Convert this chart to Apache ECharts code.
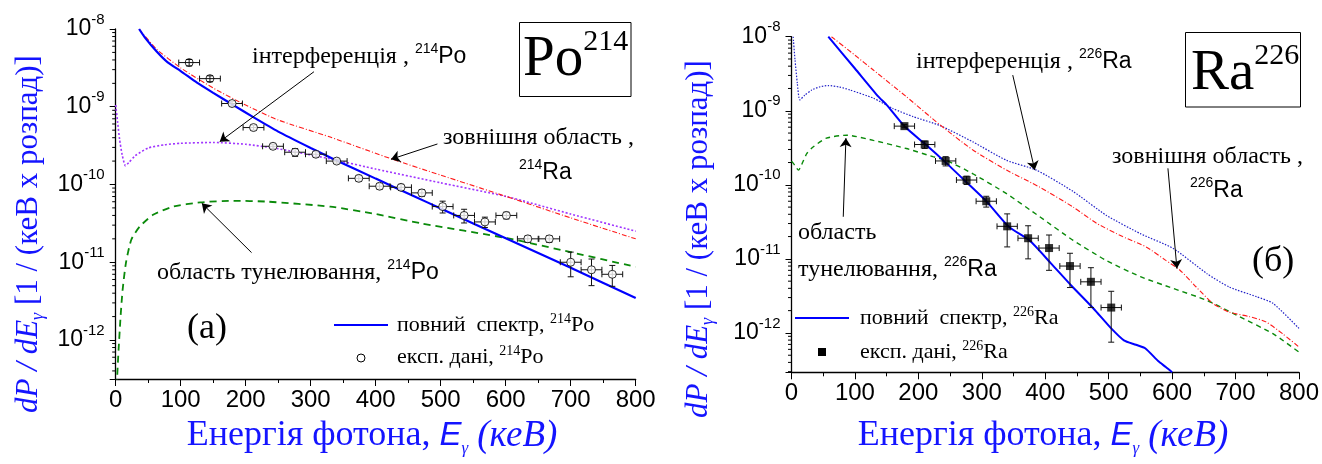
<!DOCTYPE html>
<html>
<head>
<meta charset="utf-8">
<title>Спектри гальмівного випромінювання 214Po та 226Ra</title>
<script src="https://cdn.jsdelivr.net/npm/echarts@6.0.0/dist/echarts.min.js"></script>
<style>
  html, body { margin: 0; padding: 0; background: #fff; }
  #chart { width: 1322px; height: 464px; }
</style>
</head>
<body>
<div id="chart"></div>
<script>
// ---------- panel (a): 214Po ----------
// photon energy E (keV) and dP/dE (1 / (keV x decay))
const poFullE   = [36, 45, 63, 80, 100, 125, 150, 181, 211, 250, 300, 338, 400, 459, 500, 600, 700, 800];
const poFullV   = [1.0e-8, 7.76e-9, 5.13e-9, 3.72e-9, 2.88e-9, 2.04e-9, 1.51e-9, 1.05e-9, 7.40e-10, 4.79e-10, 2.95e-10, 2.07e-10, 1.19e-10, 7.08e-11, 4.90e-11, 2.04e-11, 8.51e-12, 3.47e-12];
const poOuterE  = [36, 63, 100, 150, 200, 250, 330, 426, 500, 602, 700, 800];
const poOuterV  = [1.0e-8, 5.50e-9, 3.16e-9, 1.74e-9, 1.05e-9, 6.76e-10, 4.07e-10, 2.11e-10, 1.32e-10, 6.97e-11, 3.72e-11, 2.0e-11];
const poInterfE = [0, 3, 6, 10, 15, 20, 30, 50, 75, 100, 150, 200, 250, 300, 338, 400, 500, 602, 700, 800];
const poInterfV = [1.05e-9, 6.31e-10, 3.80e-10, 2.40e-10, 1.74e-10, 1.91e-10, 2.34e-10, 2.95e-10, 3.24e-10, 3.39e-10, 3.47e-10, 3.29e-10, 2.88e-10, 2.40e-10, 2.07e-10, 1.58e-10, 1.05e-10, 6.97e-11, 4.17e-11, 2.51e-11];
const poTunnelE = [2, 2.3, 4.4, 7.5, 10.6, 15.7, 24, 37, 57.5, 88, 130, 181, 232, 330, 400, 470, 602, 700, 800];
const poTunnelV = [2.51e-13, 3.39e-13, 7.41e-13, 2.0e-12, 4.37e-12, 9.77e-12, 1.95e-11, 2.88e-11, 4.07e-11, 5.19e-11, 5.89e-11, 6.17e-11, 6.03e-11, 5.19e-11, 4.17e-11, 3.16e-11, 2.04e-11, 1.35e-11, 8.71e-12];
// measured spectrum with errors
const poExpE    = [113, 145, 179, 212, 242, 276, 308, 340, 374, 406, 439, 471, 503, 536, 568, 601, 634, 667, 700, 732, 764];
const poExpV    = [3.7e-9, 2.3e-9, 1.1e-9, 5.4e-10, 3.1e-10, 2.6e-10, 2.45e-10, 2.0e-10, 1.2e-10, 9.5e-11, 9.2e-11, 7.8e-11, 5.2e-11, 4.0e-11, 3.3e-11, 4.0e-11, 2.0e-11, 2.0e-11, 1.0e-11, 8.0e-12, 7.0e-12];
const poExpErrE = [16, 16, 16, 16, 16, 16, 16, 16, 16, 16, 16, 16, 16, 16, 16, 16, 16, 16, 16, 16, 16];
const poExpErrV = [3.5e-10, 2.0e-10, 8e-11, 4e-11, 2e-11, 3e-11, 2e-11, 1.2e-11, 1e-11, 8e-12, 8e-12, 8e-12, 9e-12, 8e-12, 5e-12, 4e-12, 2e-12, 2e-12, 3.5e-12, 3.0e-12, 2.1e-12];

// ---------- panel (б): 226Ra ----------
const raFullE   = [58, 100, 137, 150, 178, 212, 242, 275, 308, 343, 375, 409, 441, 476, 504, 524, 543, 558, 578, 590, 600];
const raFullV   = [1.0e-8, 3.72e-9, 1.55e-9, 1.20e-9, 6.17e-10, 3.47e-10, 2.04e-10, 1.10e-10, 5.89e-11, 2.69e-11, 1.78e-11, 8.71e-12, 4.37e-12, 2.14e-12, 1.15e-12, 7.94e-13, 6.92e-13, 6.17e-13, 4.17e-13, 3.47e-13, 2.95e-13];
const raOuterE  = [63, 100, 129, 181, 234, 286, 339, 391, 444, 481, 522, 559, 590, 612, 638, 664, 690, 722, 748, 774, 800];
const raOuterV  = [1.0e-8, 5.62e-9, 3.55e-9, 1.55e-9, 6.46e-10, 2.95e-10, 1.58e-10, 9.33e-11, 5.01e-11, 3.02e-11, 2.0e-11, 1.45e-11, 9.55e-12, 7.08e-12, 4.17e-12, 2.51e-12, 1.91e-12, 1.66e-12, 1.41e-12, 9.77e-13, 6.46e-13];
const raInterfE = [2.6, 5.5, 9.2, 13, 21, 32, 45, 58, 76, 92, 129, 160, 192, 234, 286, 339, 386, 444, 496, 550, 602, 655, 690, 733, 759, 800];
const raInterfV = [1.0e-8, 4.90e-9, 2.34e-9, 1.40e-9, 1.62e-9, 1.91e-9, 2.11e-9, 2.19e-9, 2.09e-9, 1.91e-9, 1.48e-9, 1.07e-9, 8.32e-10, 6.31e-10, 3.80e-10, 2.14e-10, 1.58e-10, 8.13e-11, 3.89e-11, 2.19e-11, 1.38e-11, 6.31e-12, 4.17e-12, 3.09e-12, 2.51e-12, 1.15e-12];
const raTunnelE = [0, 3, 11, 19, 24, 34, 55, 87, 129, 181, 223, 244, 286, 339, 391, 444, 496, 550, 602, 655, 706, 759, 800];
const raTunnelV = [2.09e-10, 1.95e-10, 1.58e-10, 2.14e-10, 2.63e-10, 3.24e-10, 4.27e-10, 4.68e-10, 3.98e-10, 3.09e-10, 2.40e-10, 2.14e-10, 1.41e-10, 7.59e-11, 3.72e-11, 1.78e-11, 9.55e-12, 5.75e-12, 3.98e-12, 2.75e-12, 1.66e-12, 9.77e-13, 5.50e-13];
const raExpE    = [178, 210, 243, 276, 307, 340, 373, 406, 439, 472, 504];
const raExpV    = [6.2e-10, 3.5e-10, 2.1e-10, 1.16e-10, 6.0e-11, 2.75e-11, 1.9e-11, 1.4e-11, 8.0e-12, 4.9e-12, 2.2e-12];
const raExpErrE = [16, 16, 16, 16, 16, 16, 16, 16, 16, 16, 16];
const raExpErrV = [3e-11, 4e-11, 3e-11, 1.5e-11, 1.0e-11, 1.3e-11, 9e-12, 7e-12, 3.9e-12, 2.7e-12, 1.45e-12];

// axis ticks
const xTicks = [0, 100, 200, 300, 400, 500, 600, 700, 800];
const yDecades = [1e-12, 1e-11, 1e-10, 1e-9, 1e-8];

// ---------- helpers ----------
const SERIF = 'Liberation Serif';
const SANS = 'Liberation Sans';
const TITLE_BLUE = '#1414ff';

const pairs = (xs, ys) => xs.map((x, i) => [x, ys[i]]);
const withErrors = (xs, ys, ex, ey) => xs.map((x, i) => [x, ys[i], ex[i], ey[i]]);

// 2..9 x 10^k inside the axis range
function minorValues(lo, hi) {
  const out = [];
  for (let k = -14; k <= -8; k++) {
    for (let m = 2; m <= 9; m++) {
      const v = m * Math.pow(10, k);
      if (v > lo && v < hi) out.push(v);
    }
  }
  return out;
}

function renderErrorBars(params, api) {
  const x = api.value(0), y = api.value(1), dx = api.value(2), dy = api.value(3);
  const c = api.coord([x, y]);
  const l = api.coord([x - dx, y])[0];
  const r = api.coord([x + dx, y])[0];
  const t = api.coord([x, y + dy])[1];
  const b = api.coord([x, y - dy])[1];
  const cap = 3;
  const st = { stroke: '#111', lineWidth: 1 };
  const seg = (x1, y1, x2, y2) => ({ type: 'line', shape: { x1, y1, x2, y2 }, style: st });
  return {
    type: 'group',
    children: [
      seg(l, c[1], r, c[1]),
      seg(l, c[1] - cap, l, c[1] + cap),
      seg(r, c[1] - cap, r, c[1] + cap),
      seg(c[0], t, c[0], b),
      seg(c[0] - cap, t, c[0] + cap, t),
      seg(c[0] - cap, b, c[0] + cap, b)
    ]
  };
}

// short outward ticks at the log sub-decades of the left axis
function renderMinorTick(params, api) {
  const p = api.coord([0, api.value(1)]);
  return {
    type: 'line',
    shape: { x1: p[0] - 3.5, y1: p[1], x2: p[0], y2: p[1] },
    style: { stroke: '#000', lineWidth: 1 }
  };
}

function arrow(from, to) {
  return [{ coord: from, symbol: 'none' }, { coord: to, symbol: 'arrow' }];
}
const arrowStyle = {
  silent: true,
  symbolSize: 9,
  label: { show: false },
  lineStyle: { color: '#000', width: 1, type: 'solid' },
  emphasis: { disabled: true }
};

function line(name, xs, ys, gi, color, width, type, arrows) {
  const s = {
    name, type: 'line', xAxisIndex: gi, yAxisIndex: gi,
    data: pairs(xs, ys), symbol: 'none', smooth: 0.2, z: 2,
    lineStyle: { color, width, type }, itemStyle: { color }
  };
  if (arrows) s.markLine = Object.assign({ data: arrows }, arrowStyle);
  return s;
}

// ---------- axes ----------
const yMin = [3.15e-13, 2.94e-13];
const yMax = 1e-8;

const tickLabelRich = {
  b: { fontFamily: SANS, fontSize: 23, lineHeight: 34, color: '#000' },
  s: { fontFamily: SANS, fontSize: 15, lineHeight: 15, verticalAlign: 'top', color: '#000' }
};

function xAxisFor(gi) {
  return {
    type: 'value', gridIndex: gi, min: 0, max: 800, interval: 100,
    axisLine: { show: true, onZero: false, lineStyle: { color: '#000', width: 1.3 } },
    axisTick: { show: true, inside: false, length: 7, lineStyle: { color: '#000' } },
    minorTick: { show: true, splitNumber: 2, length: 4, lineStyle: { color: '#000' } },
    axisLabel: { customValues: xTicks, fontFamily: SANS, fontSize: 24, color: '#000', margin: 9 },
    splitLine: { show: false }
  };
}

function yAxisFor(gi) {
  return {
    type: 'log', logBase: 10, gridIndex: gi, position: 'left',
    min: yMin[gi], max: yMax,
    axisLine: { show: true, lineStyle: { color: '#000', width: 1.3 } },
    axisTick: { show: true, inside: false, length: 6, lineStyle: { color: '#000' } },
    axisLabel: {
      customValues: yDecades, margin: 11,
      formatter: v => '{b|10}{s|' + Math.round(Math.log10(v)) + '}',
      rich: tickLabelRich
    },
    splitLine: { show: false },
    minorTick: { show: false }
  };
}

function minorTickSeries(gi) {
  return {
    name: 'minor_ticks_' + gi, type: 'custom', xAxisIndex: gi, yAxisIndex: gi,
    silent: true, clip: false, z: 1,
    renderItem: renderMinorTick, encode: { x: 0, y: 1 },
    data: minorValues(yMin[gi], yMax).map(v => [0, v])
  };
}

// ---------- series ----------
const series = [
  minorTickSeries(0),
  minorTickSeries(1),
  // (a)
  line('po_tunnel', poTunnelE, poTunnelV, 0, '#0a8a0a', 1.8, [7, 5],
       [arrow([209, 1.33e-11], [132.5, 5.73e-11])]),
  line('po_interf', poInterfE, poInterfV, 0, '#a035ff', 1.6, [2, 2],
       [arrow([305, 2.82e-9], [160, 3.55e-10])]),
  line('po_outer', poOuterE, poOuterV, 0, '#ff1a1a', 1.1, [5, 2, 1, 2],
       [arrow([495, 3.32e-10], [423.5, 2.11e-10])]),
  line('po_full', poFullE, poFullV, 0, '#0000ff', 2.2, 'solid'),
  {
    name: 'po_err', type: 'custom', xAxisIndex: 0, yAxisIndex: 0, z: 3,
    renderItem: renderErrorBars, encode: { x: 0, y: 1 },
    data: withErrors(poExpE, poExpV, poExpErrE, poExpErrV)
  },
  {
    name: 'po_exp_first', type: 'scatter', xAxisIndex: 0, yAxisIndex: 0, z: 4,
    symbol: 'circle', symbolSize: 8,
    itemStyle: { color: 'rgba(255,255,255,0)', borderColor: '#000', borderWidth: 1 },
    data: pairs(poExpE.slice(0, 2), poExpV.slice(0, 2))
  },
  {
    name: 'po_exp', type: 'scatter', xAxisIndex: 0, yAxisIndex: 0, z: 4,
    symbol: 'circle', symbolSize: 8,
    itemStyle: { color: '#fff', borderColor: '#000', borderWidth: 1 },
    data: pairs(poExpE.slice(2), poExpV.slice(2))
  },
  // (б)
  line('ra_tunnel', raTunnelE, raTunnelV, 1, '#0a8a0a', 1.4, [5, 4],
       [arrow([81.6, 3.7e-11], [85.8, 4.27e-10])]),
  line('ra_interf', raInterfE, raInterfV, 1, '#2222c8', 1.2, [1.5, 1.5],
       [arrow([348.8, 3.03e-9], [383.5, 1.58e-10])]),
  line('ra_outer', raOuterE, raOuterV, 1, '#ff1a1a', 1.1, [5, 2, 1, 2],
       [arrow([593.4, 1.67e-10], [607.6, 7.41e-12])]),
  line('ra_full', raFullE, raFullV, 1, '#0000ff', 2.0, 'solid'),
  {
    name: 'ra_err', type: 'custom', xAxisIndex: 1, yAxisIndex: 1, z: 3,
    renderItem: renderErrorBars, encode: { x: 0, y: 1 },
    data: withErrors(raExpE, raExpV, raExpErrE, raExpErrV)
  },
  {
    name: 'ra_exp', type: 'scatter', xAxisIndex: 1, yAxisIndex: 1, z: 4,
    symbol: 'rect', symbolSize: 8,
    itemStyle: { color: '#000' },
    data: pairs(raExpE, raExpV)
  }
];

// ---------- annotations, keys and titles ----------
const annRich = {
  a: { fontFamily: SERIF, fontSize: 24, lineHeight: 29, fill: '#000' },
  t: { fontFamily: SERIF, fontSize: 22, lineHeight: 26, fill: '#000' },
  ts: { fontFamily: SERIF, fontSize: 14, lineHeight: 14, verticalAlign: 'top', fill: '#000' },
  s: { fontFamily: SANS, fontSize: 14, lineHeight: 14, verticalAlign: 'top', fill: '#000' },
  b: { fontFamily: SANS, fontSize: 23, lineHeight: 29, fill: '#000' },
  big: { fontFamily: SERIF, fontSize: 57, lineHeight: 67, fill: '#000' },
  bigs: { fontFamily: SERIF, fontSize: 30, lineHeight: 30, verticalAlign: 'top', fill: '#000' },
  tag: { fontFamily: SERIF, fontSize: 36, lineHeight: 40, fill: '#000' }
};
function txt(x, y, text, align) {
  return {
    type: 'text', x, y, silent: true, z: 10,
    style: { text, rich: annRich, align: align || 'left', verticalAlign: 'middle' }
  };
}
function box(x, y, w, h) {
  return {
    type: 'rect', silent: true, z: 10, shape: { x, y, width: w, height: h },
    style: { fill: 'none', stroke: '#000', lineWidth: 1 }
  };
}
function keyLine(x, y, color, width) {
  return {
    type: 'line', silent: true, z: 10, shape: { x1: x, y1: y, x2: x + 54, y2: y },
    style: { stroke: color, lineWidth: width }
  };
}
function keyCircle(x, y) {
  return {
    type: 'circle', silent: true, z: 10, shape: { cx: x, cy: y, r: 4 },
    style: { fill: '#fff', stroke: '#000', lineWidth: 1 }
  };
}
function keySquare(x, y) {
  return {
    type: 'rect', silent: true, z: 10, shape: { x: x - 4, y: y - 4, width: 8, height: 8 },
    style: { fill: '#000' }
  };
}

const xTitleRich = {
  n: { fontFamily: SERIF, fontSize: 36, lineHeight: 42, fill: TITLE_BLUE },
  e: { fontFamily: SANS, fontStyle: 'italic', fontSize: 33, lineHeight: 42, fill: TITLE_BLUE },
  g: { fontFamily: SERIF, fontStyle: 'italic', fontSize: 17, lineHeight: 17, verticalAlign: 'bottom', fill: TITLE_BLUE },
  k: { fontFamily: SERIF, fontStyle: 'italic', fontSize: 37, lineHeight: 42, fill: TITLE_BLUE }
};
const yTitleRich = {
  i: { fontFamily: SERIF, fontStyle: 'italic', fontSize: 31, lineHeight: 36, fill: TITLE_BLUE },
  g: { fontFamily: SERIF, fontStyle: 'italic', fontSize: 18, lineHeight: 18, verticalAlign: 'bottom', fill: TITLE_BLUE },
  n: { fontFamily: SERIF, fontSize: 31, lineHeight: 36, fill: TITLE_BLUE }
};
const xTitle = '{n|Енергія фотона, }{e|E}{g|γ}{n| }{k|(кеВ)}';
const yTitle = '{i|dP / dE}{g|γ}{n| [1 / (кеВ х розпад)]}';

function xTitleAt(x, y) {
  return { type: 'text', x, y, silent: true,
    style: { text: xTitle, rich: xTitleRich, align: 'center', verticalAlign: 'middle' } };
}
function yTitleAt(x, y) {
  return { type: 'text', x, y, rotation: Math.PI / 2, silent: true,
    style: { text: yTitle, rich: yTitleRich, align: 'center', verticalAlign: 'middle' } };
}

const graphics = [
  // (a)
  txt(252, 57, '{a|інтерференція , }{s|214}{b|Po}'),
  txt(443, 138, '{a|зовнішня область ,}'),
  txt(519, 173, '{s|214}{b|Ra}'),
  txt(157, 273, '{a|область тунелювання, }{s|214}{b|Po}'),
  box(519.5, 22.5, 111.5, 74),
  txt(523, 60.5, '{big|Po}{bigs|214}'),
  txt(187, 329, '{tag|(a)}'),
  keyLine(334, 325, '#0000ff', 2.2),
  txt(397, 325, '{t|повний  спектр, }{ts|214}{t|Po}'),
  keyCircle(361, 358),
  txt(397, 357, '{t|експ. дані, }{ts|214}{t|Po}'),
  xTitleAt(372, 436),
  yTitleAt(29, 234),
  // (б)
  txt(916, 62, '{a|інтерференція , }{s|226}{b|Ra}'),
  txt(1112, 157, '{a|зовнішня область ,}'),
  txt(1190, 191, '{s|226}{b|Ra}'),
  txt(798, 233, '{a|область}'),
  txt(798, 270, '{a|тунелювання, }{s|226}{b|Ra}'),
  box(1185.5, 32.5, 115, 74.5),
  txt(1191, 74.5, '{big|Ra}{bigs|226}'),
  txt(1252, 262, '{tag|(б)}'),
  keyLine(795, 318, '#0000ff', 2.0),
  txt(860, 318, '{t|повний  спектр, }{ts|226}{t|Ra}'),
  keySquare(822, 352),
  txt(860, 352, '{t|експ. дані, }{ts|226}{t|Ra}'),
  xTitleAt(1043, 436),
  yTitleAt(699, 239)
];

// ---------- chart ----------
const chart = echarts.init(document.getElementById('chart'), null, { renderer: 'canvas' });
chart.setOption({
  animation: false,
  backgroundColor: '#fff',
  textStyle: { fontFamily: SANS },
  grid: [
    { left: 115.7, top: 29, width: 520, height: 350, containLabel: false },
    { left: 791.5, top: 36.7, width: 508, height: 335.6, containLabel: false }
  ],
  xAxis: [xAxisFor(0), xAxisFor(1)],
  yAxis: [yAxisFor(0), yAxisFor(1)],
  series,
  graphic: graphics
});
</script>
</body>
</html>
